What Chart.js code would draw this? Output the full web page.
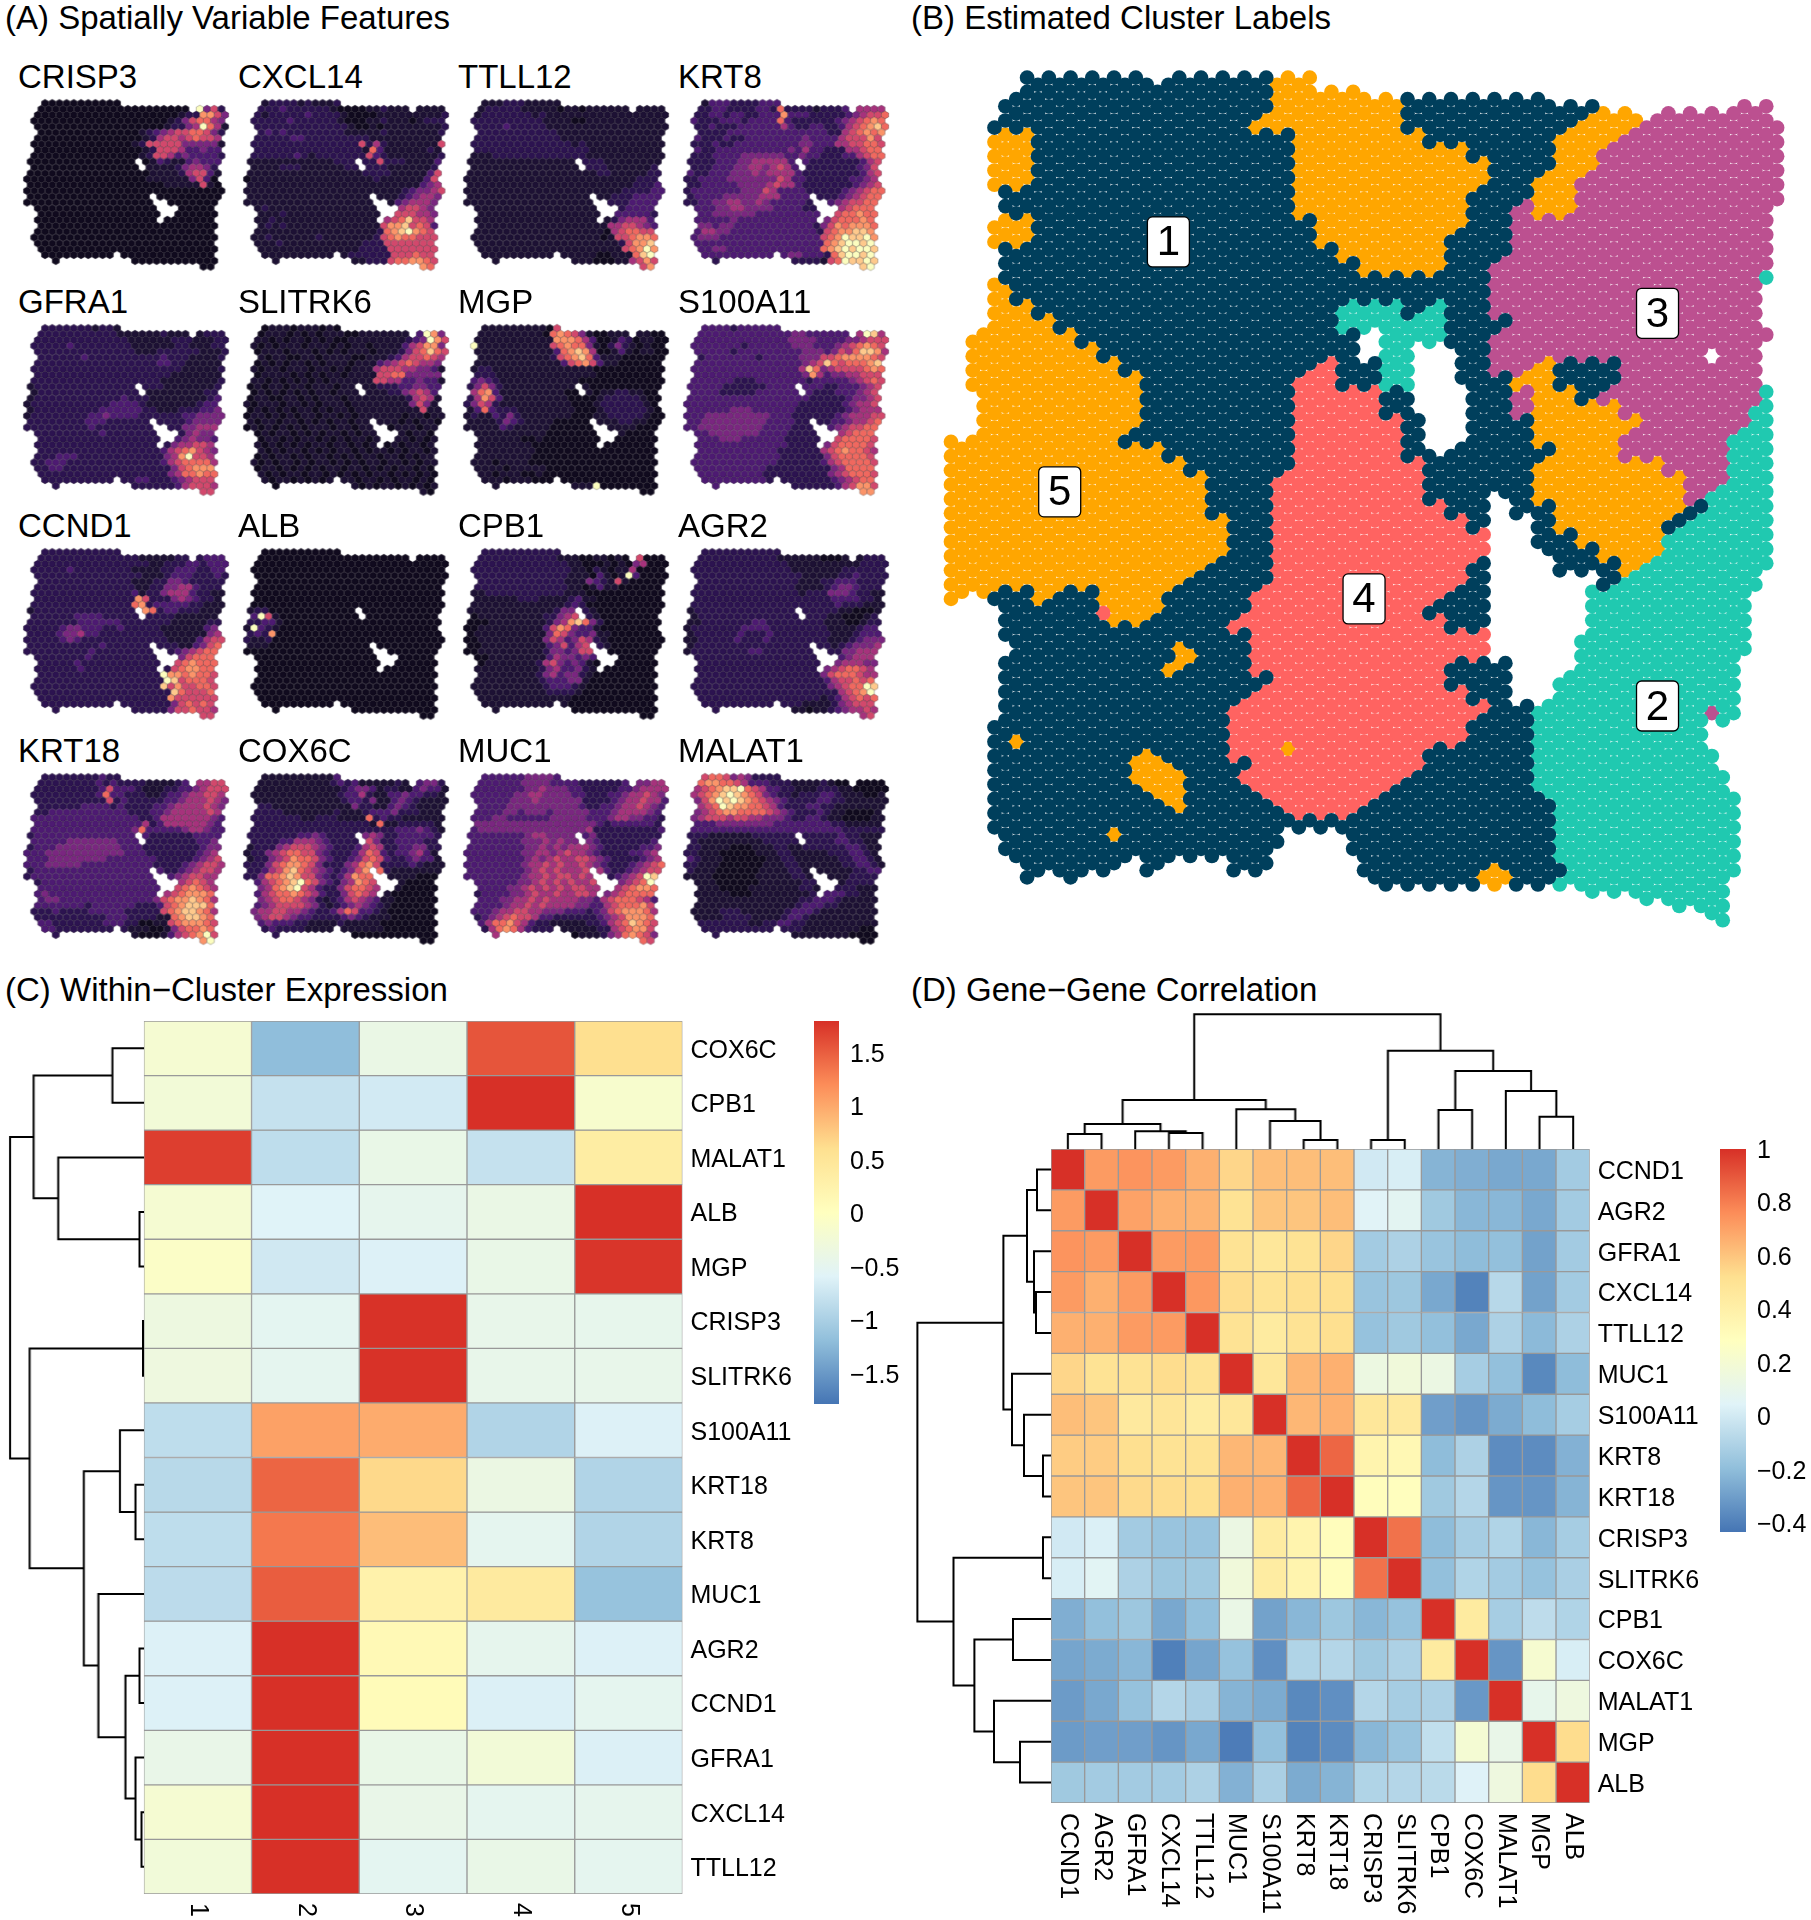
<!DOCTYPE html>
<html>
<head>
<meta charset="utf-8">
<script src="https://cdn.jsdelivr.net/npm/chart.js@4"></script>
<style>
  html, body { margin: 0; padding: 0; background: #fff; }
  #page { position: relative; width: 1811px; height: 1920px; overflow: hidden; font-family: "Liberation Sans", Arial, sans-serif; color: #000; }
  #page canvas { position: absolute; }
  .lbl { position: absolute; font-size: 33px; line-height: 33px; white-space: nowrap; }
</style>
</head>
<body>
<div id="page"></div>
<script>
// ---------- panel (A): 0-10 expression level per spot ----------
const spotSpans = [
  [[2,12]],[[2,22],[24,27]],[[1,27]],[[1,27]],[[1,27]],[[2,27]],[[1,26]],[[1,27]],[[1,26]],[[1,27]],
  [[0,26]],[[1,26]],[[0,26]],[[0,26]],[[0,26]],[[0,27]],[[0,26]],[[0,26]],[[1,25]],[[2,26]],
  [[1,25]],[[2,26]],[[1,25]],[[1,26]],[[1,25]],[[2,26]],[[2,11],[13,25]],[[4,4],[15,26]],[[24,25]]
];
const spotHoles = [[10,15],[11,16],[16,17],[17,18],[17,19],[18,18],[18,19],[18,20],[19,19],[19,20],[20,18]];

const gridCRISP3 = [
  "","000000000000000000000000a462","0000000000000000000001228864",
  "0000000000000000000012467754","000000000000000000012245a751","0000000000000000123456677642",
  "0000000000000000125665676653","0000000000000001266666444441","0000000000000000126665334333",
  "0000000000000000126653433332","0000000000000000013211343331","0000000000000000111112455421",
  "0000000000000000011112566311","0000000000000000011111146300","0000000000000000000111116100"
];
const gridCXCL14 = [
  "1112222121112100011111111111","1122232222221000011211101111","1212222232222100001111111112",
  "1222223222222100011211101222","1222222222222210010111111112","1223232222222211111211111112",
  "1222223322222222211111111112","1222222222222222625211111116","1222222222222222173111111211",
  "1222222321222222263211111112","1111111111112222226222111133","1111122211111122222211111126",
  "1111111111111111222211111369","0111111111111111112111111365","1111111111111111111111113456",
  "1111111111111111111111234456","1111111111111111111112345543","1111111111111111111113455543",
  "1121111111111111111145665443","1111121111111111111156665543","1112111111111111111567966533",
  "1112121111111111111688967632","1111111111111111112789a87632","1112111111211111112678776663",
  "1111211111111111222666666665","1111111111111111222266666665","1111111111111122222266676666",
  "1111111112222111122267788765","1111111112222111122267788765"
];
const gridTTLL12 = [
  "1111122211111111111111111111","1112222211111011011111111111","1122222221211111111111111111",
  "1222222222211110011111111111","1222232222211111111111111111","1222222222222111111111111111",
  "1222222222222111111111111111","1222222222222221211111111111","1222222222222222211111111111",
  "1111222222222222211111111111","1111111111111112222111111112","1111111111111111122211111122",
  "1111111111111111112211111222","1111111111111111111111112222","1111111111111111111111122232",
  "1111111111111111111111222233","1111111111111111111122233333","1111111111111111111122233332",
  "1111111111111111111122333332","1111111111111111111123333322","1111111111111111111124555322",
  "1111111111111111111155665432","1111111111111111111056776652","1111111111111111111016678875",
  "1111111111111111111112688986","1111111111111111111111678a86","1111111111111111110011179a86",
  "1111111111111111110001156866","1111111111111111110001156866"
];
const gridKRT8 = [
  "2213332222333523222222223344","2222332222332722221222335555","2223323322333833322222345667",
  "2322233323333732222223456787","2223222333333532233223567897","2322223333333333333322567878",
  "2322232233333333433335666867","3222322333333333443335566776","2322333333333343533222556777",
  "3222333344444433433222335677","2222333445555533322222223567","3222333445545653222222223466",
  "3223334445455553222222223567","2233334444444653322222233456","2233333444456553222222234566",
  "2333333344465333322222345677","2333344444555333322223456777","2233445544543333322234566777",
  "3333445544443333223345677777","2333444444333333333456778777","3333334333333333333467778776",
  "3344344333333333332468788875","3355443333333333332678899876","3344433333333333333678a99a86",
  "2333333333333333333789aa9a96","2233443333333333333789a9aa97","2233333333333344333279aa9a97",
  "2222233333332222222167a99a96","2222233333332222222167a99a96"
];
const gridGFRA1 = [
  "2222222221221111112221111111","2222222222222111111211111222","2222222222222211111122211122",
  "2222223222222221111112211122","2222222222222221112222221112","2222222232222222222322211112",
  "2222222222222222223322111112","2222222222222222222222111112","2222222222222222222211111112",
  "1222222222222222222111111112","1222222222222222222111111123","1122222222222222211111111223",
  "1222222222222322211111111233","1222222222223333211111112333","1222222222333333221112223344",
  "1222222223343333222222334444","2222222233322222222222344443","2222222223222222222222445554",
  "2222222222322222222222454444","2222222222222222222233454433","2222222222222222222245566533",
  "2222222222222222222356786543","2222333222222222222458a66543","2223332222222222222356777753",
  "2223322222222222222246788873","2222222222222222222245778773","2222222222222223322234566664",
  "2222222222222222222223566654","2222222222222222222223566654"
];
const gridSLITRK6 = [
  "1101110111010100111111011111","0101110101011100111111113a84","0110101101010011111111234a86",
  "0101011101110101101111356884","1011101110101011101112467976","0110110011011110011123566765",
  "1010101101011101113456765543","0101101110110101115666554431","1011110101011011116677444441",
  "0110101010101111116655334331","0101101101110110112223344331","1010101010110111111122456531",
  "0110011010111011111111256511","1011101101011101111111146411","0101010110101101111111116111",
  "0110101011011010111111011011","1011011010101101101110101101","0101010101110110110101110110",
  "1010110101011010111011011011","0101101011010101101101101010","1101010101101101011010110101",
  "0110101101010110101101011010","1010110101101010110110101101","0101011010110101011011010110",
  "1011010101011011010101101011","0110101101101010101101010101","1010110101010110110101101010",
  "0101010110101011010110101010","0101010110101011010110101010"
];
const gridMGP = [
  "0111111111106a31000000000000","0111111111107876410011101100","0111111111118887530013201100",
  "0a11111111116787741024210100","0111111111113789850013101100","0111111111112678973111000000",
  "0111111111111367863110000000","1122111111111111110000000000","1222111111111111110000000000",
  "2343211111111111000000000000","2464211111111111100000000001","2578311111111100110112211000",
  "2586311111111100001222221000","2465211111111110001222222100","1373222111111110001222222100",
  "1211324211111110001122222100","1111243211110000001112211000","1111132111110000000011110000",
  "1111111111100000000001000000","1111111100100000000000000000","1111111110000000000000000000",
  "1111111111000000000000000000","1111111110000000000000000000","1111011110000000000000000000",
  "1111101111100000000000000000","1111011100100000000000000000","1111101110000000000000000000",
  "111110111111111111a000000000","111110111111111111a000000000"
];
const gridS100A11 = [
  "2233332333333333333333333345","2333333333333334433333345a95","3333333333333344443333445666",
  "2333333323333334443334567876","3333332333333333444346579985","3323333333233333444667888876",
  "3333333333333333456976777897","3333333333333333597456666787","3333333333333333485344556667",
  "3333333222333333323333345676","3333322222233333333223334565","3333322222333333332223334566",
  "3333333333333333322222344566","3333333333333333222222345566","3333334443333332222222345556",
  "3334444444443332222223455566","3344444444433332222233455677","3344444444433332222234566776",
  "3334444444333322222245677765","3333344433333322222456777765","3333333333333322222467777654",
  "3333333333333222222567877654","3333333333333222222467777654","3333333333333222222356777765",
  "3333333333322222222245777765","2333333333322222222245677765","2333333333322222222234567765",
  "2233333322222222222223568865","2233333322222222222223568865"
];
const gridCCND1 = [
  "2222222222222211111111122222","2222222222222222111112222333","2222222222222222211222332333",
  "2222223222222221111223332233","2222222222222222111233322232","2222222222222221112244322222",
  "2222222222222221122445532221","2222222222222223122455532211","2222222222222228622245432211",
  "2222222222222227823333322111","1222222222222222872332221112","2222222333322222222221111113",
  "2222222333333222222211111224","2222234433322322222111111345","2222344533222222222111111456",
  "2222234322222222222211113566","2222222222322222222221134677","2222222223222222222223456777",
  "2222222232222222222234677775","2222222322222222222246787775","2222222322222222222267887765",
  "2222222222222222222a88787765","2222222222222222222a96777665","2222222222222222222968667765",
  "2222222222222222222297666765","2222222222222222222286666665","2222222222222222222246767665",
  "2222222222222222222246676654","2222222222222222222246676654"
];
const gridALB = [
  "","","","","","","","","","","122","13a61","22331","1a321","23280","2112","111"
];
const gridCPB1 = [
  "1222222222222100000101000000","1222222222222111001101046000","1222222222222211000101045000",
  "1222222222222221102101150000","1222222222222211103101a30000","1222222222222211143216100000",
  "1222222222222211013110000000","1112222222222211100000000000","1111111222111123110000000000",
  "1111111111111123200000000000","1111111111112445210000000000","0011111111122456321000000000",
  "0001111111124589742000000000","0011111111136874331000000000","0111111111147643341100000000",
  "0011111111146534652100000000","0011111111134635672100000000","0011111111124434662100000000",
  "1001111111135443431100000000","1101111111256434310000000000","1111111111245334211000000000",
  "1111111111245344210000000000","1111111111233344100000000000","1111111111123332100000000000",
  "1111111111122221000000000000","1111111111111110000000000000","1111111111111100000000000000",
  "1111111101111110000000000000","1111111101111110000000000000"
];
const gridAGR2 = [
  "2222222222222111111010111122","2222222222222111111000111222","2222222222222211111111112222",
  "2222222222222221111111222222","2222222222222222111112232222","2222222222222222111223332222",
  "2222222222222221111234432221","2222222222222222122244432211","1222222222222222222233332211",
  "1222222222222222222223222111","1222222222222222222221100012","1122222222222222222211000122",
  "1122222223322222222111001223","1222222233332222222211112333","1222222322232222222211123333",
  "1122222322232222222211123444","1222222222222222222212344454","1222222223322222222222445554",
  "1222222222222222222223455554","1122222222222222222234555443","1222222222222222222456776544",
  "1222222222222222222467776555","1222222222222222222356676786","1222222222222222222245677a96",
  "1222222222222222222225678a86","1122222222222222222123567675","1122222222222222111124566654",
  "1122222222222221101123455653","1122222222222221101123455653"
];
const gridKRT18 = [
  "2222222222322222211111223455","2222222222323222211112345566","2222222222363332111223345666",
  "2222222222373322211233455665","2222222222262322222334555654","3222222233332322223345555654",
  "3223333333333322233455555654","3333333333333333223555555543","3333333333333333523555555432",
  "3333333333333334733333455433","2333333333333333322222233333","2333334444444333222222223343",
  "2333444444444333222222223444","3334444444444433322222223455","3334444444433333332222234566",
  "3334444433333333332222345665","2333333333333333333223456655","2333333333333333333234566554",
  "2233333333333333333345676554","3333333333333333333456787654","3343333333333333334567888754",
  "3334433333333333334678898754","3333333323333332223678999754","2222322223333322222678998753",
  "2222222222233322221178998764","2233222222233322001167888764","2333222222222211100146778754",
  "2232222222222211000135678a63","2232222222222211000135678a63"
];
const gridCOX6C = [
  "1111111111113433111111113322","1111111111112323111112113442","1111111111111234431221134331",
  "1111111111111233521133433221","1111111111111233241134321111","2222111111111114221134321111",
  "2222211111112111233342221111","2222222211222111172322111111","2222222222222222217112222211",
  "2222222222222222222223334321","2222222334322222454223333321","2222233555432222464223333221",
  "1222456665432223565223344221","1224567766432223576323345311","1224568776432234676322343311",
  "2224678876422245786222232111","2235689765432346877211111111","2247789866432358777211110000",
  "2356789a76432458766311000000","2345789a65322467765211000000","2356778765322467654100000000",
  "2345677654212356543110000000","2345666654212345432100000000","3455665543223576332100000000",
  "3456654332222343211100000000","2334333221111211111000000000","2223222211111111111000000000",
  "1122221111111100000000000000","1122221111111100000000000000"
];
const gridMUC1 = [
  "3333333344443333222221223333","3333333344443333222222334455","3333333344544433222223345555",
  "3333333445544443322233455654","3333334445444444222234556553","3333334444444444322334556543",
  "3333344344434444433345555433","3333443333334444433345544332","4444444444444444443233333322",
  "3344444444444444452222222223","3333333345544444342222222223","3333333344454544443222222233",
  "3333333344545455543222223344","3333333344554565543222233455","3333333345456556654322223456",
  "3333333345565655654322234567","3333333345656555665322345667","3333333345565665656223456a97",
  "2333333445656565565234567a87","2233334456565656655345678875","2233334456556556654456777763",
  "3333344556565555443567776532","3333345565655554433567778653","2333455665544433323467888754",
  "2234567665332222223456888754","2235778653221111122356798764","2225787532221111112256788654",
  "2224566322221110111245787643","2224566322221110111245787643"
];
const gridMALAT1 = [
  "3467764542222211111110100000","4578877653332221111210000000","4567899a76533221112221100000",
  "356789a987643221222332111001","3468a9a987654322223322111111","34567a9887765322233221111111",
  "3456788777765432223211000011","3456665665544432233211000011","3333444444443333333322111112",
  "3333333333333333333333222222","2221111112222222222223221112","2211111111122222222223322111",
  "2211110001112211222222332111","2211100000111221111122233211","3211100000011221111112233211",
  "2211100000011122111111223321","2111000000111122111111122332","1111000000111112211111122222",
  "1111000000111111221111222222","1111100001111111221122221111","1111110001111111122333221111",
  "1111111111111111223332111111","1111111111111112333221111111","1111122211111123332111111111",
  "1111122221111233211111111111","1222222221122332211111111111","1222222222222222111111110000",
  "1222222222222221111111100000","1222222222222221111111100000"
];
const panelGenes = ["CRISP3","CXCL14","TTLL12","KRT8","GFRA1","SLITRK6","MGP","S100A11","CCND1","ALB","CPB1","AGR2","KRT18","COX6C","MUC1","MALAT1"];
const panelGrids = [gridCRISP3,gridCXCL14,gridTTLL12,gridKRT8,gridGFRA1,gridSLITRK6,gridMGP,gridS100A11,gridCCND1,gridALB,gridCPB1,gridAGR2,gridKRT18,gridCOX6C,gridMUC1,gridMALAT1];

// ---------- panel (B): cluster per subspot. Each entry covers two lattice rows.
// "start cluster:count ..." ; suffix e/o = only the even/odd row of the pair, 0 = no spot
const spotRows = [
  "3 1e:1 1:5 1o:1 1:5 5:2",
  "3 1:12 5:4 5o:2 1o:7",
  "2 1e:1 1:12 5:6 1:9 5o:2 0:1 3o:3 3:2",
  "2 1:12 5:7 1:8 5:3 3:6 3o:1",
  "2 5:2 1:12 5:6 1:6 5:3 3:7 3o:1",
  "2 5:2 1:12 5:8 1:4 5:2 3:8 3o:1",
  "2 5:2 1:12 5:9 1:3 5:2 3:8 3o:1",
  "2 5:2 1:12 5:9 1:2 5:2 3:9 3o:1",
  "2 1e:1 1:13 5:8 1:3 5:2 3:9 3o:1",
  "2 1e:1 1:13 5:8 1:2 3:1 5:2 3:9",
  "2 5:2 1:13 5:7 1:2 3:12",
  "2 5:2 1:13 5:6 1:3 3:12",
  "2 1e:1 1:15 5:5 1:3 3:12",
  "2 1e:1 1:16 5:4 1:2 3:13",
  "2 1:23 3:12 3o:1",
  "2 5:1 1:22 3:12 3o:1",
  "2 5:2 1:14 2:3 1:1 2:1 1:2 3:12 3o:1",
  "2 5:3 1:13 2:5 1:3 3:11 3o:1",
  "1 5:5 1:13 0:1 2:3 1:2 3:12 3o:1",
  "1 5:6 1:12 0:1 2:1 2o:1 0:1 1e:1 1:1 3:12 3o:1",
  "1 5:7 1:9 4:1 1:2 2:1 2o:1 0:1 1e:1 1:1 3:2 5:1 1:3 3:6 3o:1",
  "1 5:8 1:7 4:2 1:2 2:1 2o:1 0:1 1e:1 1:2 5:2 1:3 3:6 3o:1",
  "1 5e:1 5:7 1:7 4:4 1:1 1o:1 0:2 1:2 3:1 5:2 1:1 3:7 3o:1",
  "1 5e:1 5:7 1:7 4:4 1:1 1o:1 0:2 1:2 3:1 5:4 3:6 2:1",
  "1 5e:1 5:7 1:7 4:5 1:1 0:2 1:3 5:5 3:5 2:1",
  "0 5o:1 5:7 1:8 4:5 1:1 0:2 1:3 5:4 3:5 2:2",
  "0 5:10 1:6 4:5 1:1 1o:1 1:5 5:3 3:5 2:2",
  "0 5:11 1:5 4:6 1:5 5:6 3:3 2:2",
  "0 5:12 1:3 4:7 1:5 5:7 3:2 2:2",
  "0 5:12 1:3 4:7 1:3 1e:1 1:1 5:7 3:1 2:3",
  "0 5:12 1:3 4:8 1:2 0:1 1:2 5:6 1:1 2:3",
  "0 5:13 1:2 4:9 1:1 0:2 1:1 5:5 1:1 2:4",
  "0 5:13 1:2 4:10 0:2 1:2 5:4 2:5",
  "0 5:13 1:2 4:10 0:2 1e:1 1:2 5:3 2:5",
  "0 5:12 1:3 4:9 1:1 0:3 1:3 5:1 2:6",
  "0 5:11 1:4 4:9 1:1 0:5 1:1 2:6 2o:1",
  "0 5:1 5e:1 1:2 5:1 1:2 5:3 1:4 4:9 1:2 0:4 2e:1 2:7",
  "2 1e:1 1:4 5:3 1:4 4:8 1:3 0:4 2e:1 2:7",
  "2 1e:1 1:10 4:10 1:2 0:4 2e:1 2:7",
  "2 1e:1 1:11 4:11 0:4 2:8",
  "3 1:11 4:11 0:4 2:8",
  "2 1e:1 1:11 4:9 1:3 0:3 2:7 2o:1",
  "2 1e:1 1:12 4:8 1:3 0:2 2:8 2o:1",
  "2 1e:1 1:11 4:10 1:2 0:2 2:8 2o:1",
  "2 1e:1 1:10 4:12 1:2 2:9 2o:1",
  "2 1:11 4:11 1:3 2:8 2e:1",
  "2 1:11 4:11 1:3 2:8",
  "2 1:11 4:9 1:5 2:8 2o:1",
  "2 1:12 4:8 1:5 2:8 2o:1",
  "2 1:12 4:7 1:6 2:9",
  "2 1:13 4:5 1:8 2:8 2o:1",
  "2 1:14 4:3 1:9 2:8 2o:1",
  "2 1:26 2:8 2o:1",
  "2 1e:1 1:12 1o:1 0:2 1e:1 1:9 2:8 2o:1",
  "2 1e:1 1:12 0:3 1e:1 1:9 2:8 2o:1",
  "3 1e:1 1:4 0:1 1:1 0:3 1:2 0:4 1:10 2:7 2o:1",
  "3 1e:1 0:1 1e:1 0:13 1e:1 1:8 2:8",
  "29 2e:3 2:4",
  "33 2e:2 2:1",
  "35 2e:1"
];
// single subspots that differ from their row pair: column, row, cluster
const spotFixes = [
  [75,28,2],[4,29,5],[75,36,3],[70,39,0],[75,44,2],[14,75,4],[15,76,5],[17,76,5],[21,80,5],[22,81,5],
  [21,82,5],[20,83,5],[70,89,3],[6,93,5],[31,94,5],[18,95,5],[17,96,5],[19,96,5],[18,97,5],[20,97,5],
  [17,98,5],[19,98,5],[21,98,5],[27,98,4],[18,99,5],[20,99,5],[19,100,5],[21,100,5],[29,100,4],[55,100,2],
  [20,101,5],[21,102,5],[31,102,4],[15,106,5],[57,110,2],[50,111,5],[49,112,5],[51,112,5],[50,113,5]
];
const clusterIds = [1,2,3,4,5];
const clusterLabelCol = [20,65,65,38,10];
const clusterLabelRow = [23,88,33,73,58];
const clusterColors = {1:"#003f5c",2:"#20c9b0",3:"#bc5090",4:"#ff6361",5:"#ffa600"};

// ---------- panel (C) ----------
const exprGenes = ["COX6C","CPB1","MALAT1","ALB","MGP","CRISP3","SLITRK6","S100A11","KRT18","KRT8","MUC1","AGR2","CCND1","GFRA1","CXCL14","TTLL12"];
const exprClusters = ["1","2","3","4","5"];
const exprValues = [
  [-0.2,-1.2,-0.4,1.55,0.6],
  [-0.25,-0.8,-0.7,1.79,-0.15],
  [1.7,-0.85,-0.42,-0.8,0.35],
  [-0.2,-0.6,-0.48,-0.4,1.79],
  [-0.08,-0.72,-0.62,-0.42,1.76],
  [-0.35,-0.52,1.78,-0.45,-0.47],
  [-0.33,-0.5,1.78,-0.45,-0.45],
  [-0.85,1.05,0.98,-0.95,-0.62],
  [-0.9,1.45,0.65,-0.38,-0.95],
  [-0.85,1.33,0.85,-0.5,-0.95],
  [-0.87,1.5,0.25,0.4,-1.15],
  [-0.62,1.79,0.12,-0.48,-0.62],
  [-0.62,1.79,0.07,-0.63,-0.5],
  [-0.43,1.79,-0.42,-0.25,-0.63],
  [-0.2,1.79,-0.43,-0.5,-0.48],
  [-0.27,1.79,-0.52,-0.42,-0.5]
];
const exprTicks = [1.5,1,0.5,0,-0.5,-1,-1.5];
// dendrogram merges: [pos1, height1, pos2, height2, mergeHeight]
const exprTree = [
  [0.5,0,1.5,0,31.5],[3.5,0,4.5,0,4.5],[2.5,0,4,4.5,85.5],[1,31.5,3.25,85.5,110],[5.5,0,6.5,0,1],
  [8.5,0,9.5,0,8.5],[7.5,0,9,8.5,24],[11.5,0,12.5,0,4.5],[14.5,0,15.5,0,2.5],[13.5,0,15,2.5,8.5],
  [12,4.5,14.25,8.5,18.5],[10.5,0,13.125,18.5,45.5],[8.25,24,11.81,45.5,60],[6,1,10.03,60,114],[2.125,110,8.02,114,133.5]
];

// ---------- panel (D) ----------
const corrGenes = ["CCND1","AGR2","GFRA1","CXCL14","TTLL12","MUC1","S100A11","KRT8","KRT18","CRISP3","SLITRK6","CPB1","COX6C","MALAT1","MGP","ALB"];
const corrValues = [
  [1,.72,.74,.72,.66,.55,.62,.62,.62,0,.02,-.23,-.25,-.27,-.27,-.14],
  [.72,1,.7,.66,.65,.5,.6,.6,.62,.05,.07,-.15,-.22,-.22,-.27,-.14],
  [.74,.72,1,.72,.72,.5,.47,.5,.55,-.14,-.11,-.17,-.2,-.19,-.29,-.14],
  [.72,.66,.72,1,.73,.53,.5,.52,.52,-.17,-.16,-.27,-.39,-.08,-.29,-.14],
  [.66,.66,.72,.72,1,.5,.44,.5,.52,-.18,-.15,-.19,-.27,-.11,-.21,-.11],
  [.55,.5,.5,.53,.5,1,.47,.64,.66,.14,.17,.13,-.13,-.19,-.37,-.2],
  [.62,.6,.45,.48,.43,.47,1,.64,.66,.47,.45,-.3,-.33,-.26,-.2,-.13],
  [.58,.58,.52,.5,.5,.64,.64,1,.86,.37,.34,-.2,-.11,-.36,-.36,-.24],
  [.6,.6,.54,.53,.52,.66,.66,.86,1,.3,.29,-.15,-.09,-.33,-.33,-.23],
  [0,.03,-.14,-.17,-.17,.13,.43,.37,.3,1,.83,-.2,-.13,-.1,-.22,-.13],
  [.02,.06,-.11,-.16,-.15,.17,.43,.37,.3,.83,1,-.19,-.1,-.14,-.18,-.12],
  [-.25,-.19,-.16,-.27,-.19,.12,-.29,-.22,-.16,-.22,-.18,1,.44,-.13,-.06,-.1],
  [-.28,-.26,-.22,-.4,-.28,-.18,-.35,-.1,-.09,-.15,-.11,.44,1,-.33,.21,.02],
  [-.31,-.27,-.18,-.09,-.12,-.23,-.26,-.37,-.35,-.09,-.13,-.11,-.32,1,.1,.15],
  [-.31,-.3,-.3,-.33,-.27,-.41,-.19,-.39,-.36,-.22,-.17,-.05,.2,.11,1,.53],
  [-.15,-.14,-.14,-.14,-.11,-.24,-.12,-.26,-.23,-.1,-.09,-.07,.04,.15,.53,1]
];
const corrTicks = [1,0.8,0.6,0.4,0.2,0,-0.2,-0.4];
const corrTreeLeft = [
  [0.5,0,1.5,0,14],[3.5,0,4.5,0,15],[2.5,0,4,15,17],[1,14,3.25,17,24],[7.5,0,8.5,0,8],
  [6.5,0,8,8,27],[5.5,0,7.25,27,39],[2.125,24,6.375,39,47.6],[9.5,0,10.5,0,8],[11.5,0,12.5,0,38],
  [14.5,0,15.5,0,31],[13.5,0,15,31,57],[12,38,14.25,57,76.6],[10,8,13.125,76.6,97.5],[4.25,47.6,11.56,97.5,133.6]
];
const corrTreeTop = [
  [0.5,0,1.5,0,15],[3.5,0,4.5,0,16],[2.5,0,4,16,17.7],[1,15,3.25,17.7,25],[7.5,0,8.5,0,9],
  [6.5,0,8,9,28],[5.5,0,7.25,28,39.7],[2.125,25,6.375,39.7,49],[9.5,0,10.5,0,9],[11.5,0,12.5,0,39],
  [14.5,0,15.5,0,32.3],[13.5,0,15,32.3,58],[12,39,14.25,58,78],[10,9,13.125,78,98.3],[4.25,49,11.56,98.3,134.7]
];

// ---------- colours ----------
const ramp = [[69,117,180],[145,191,219],[224,243,248],[255,255,191],[254,224,144],[252,141,89],[215,48,39]];
const magma = ["#100a1e","#1d1134","#2c1350","#4d1a72","#7a2680","#a6327c","#d2486c","#f0685f","#fb9469","#fec98c","#fcfdbf"];

function rampColor(v, min, max) {
  const t = Math.max(0, Math.min(0.9999, (v - min) / (max - min))) * 6;
  const i = Math.floor(t), f = t - i, a = ramp[i], b = ramp[i + 1];
  return `rgb(${a.map((c, n) => Math.round(c + (b[n] - c) * f)).join(",")})`;
}

const page = document.getElementById("page");
const FONT = '"Liberation Sans", Arial, sans-serif';
Chart.defaults.font.family = FONT;
Chart.defaults.color = "#000";
Chart.defaults.animation = false;
Chart.defaults.responsive = false;
Chart.defaults.events = [];
Chart.defaults.layout.autoPadding = false;
Chart.defaults.plugins.legend.display = false;
Chart.defaults.plugins.tooltip.enabled = false;

function addCanvas(left, top, width, height) {
  const c = document.createElement("canvas");
  c.width = width; c.height = height;
  c.style.left = left + "px"; c.style.top = top + "px";
  c.style.width = width + "px"; c.style.height = height + "px";
  page.appendChild(c);
  return c;
}
function addLabel(text, left, top) {
  const d = document.createElement("div");
  d.className = "lbl"; d.textContent = text;
  d.style.left = left + "px"; d.style.top = top + "px";
  page.appendChild(d);
}

addLabel("(A) Spatially Variable Features", 5, 1);
addLabel("(B) Estimated Cluster Labels", 911, 1);
addLabel("(C) Within\u2212Cluster Expression", 5, 973);
addLabel("(D) Gene\u2212Gene Correlation", 911, 973);

// hexagon stamps for panel A, one per level
const hexStamps = magma.map(col => {
  const c = document.createElement("canvas");
  c.width = 10; c.height = 10;
  const g = c.getContext("2d");
  const hw = 3.65, hh = 3.9;
  g.beginPath();
  g.moveTo(5, 5 - hh); g.lineTo(5 + hw, 5 - hh / 2); g.lineTo(5 + hw, 5 + hh / 2);
  g.lineTo(5, 5 + hh); g.lineTo(5 - hw, 5 + hh / 2); g.lineTo(5 - hw, 5 - hh / 2);
  g.closePath();
  g.fillStyle = col; g.fill();
  g.lineWidth = 0.5; g.strokeStyle = "rgba(15,10,20,0.5)"; g.stroke();
  return c;
});

const holeSet = new Set(spotHoles.map(h => h[0] + "," + h[1]));

panelGenes.forEach((gene, p) => {
  const a = p % 4, b = Math.floor(p / 4);
  addLabel(gene, 18 + 220 * a, 60 + 224.5 * b);
  const pts = [], styles = [];
  spotSpans.forEach((spans, i) => spans.forEach(([s, e]) => {
    for (let j = s; j <= e; j++) {
      if (holeSet.has(i + "," + j)) continue;
      const ch = (panelGrids[p][i] || "")[j] || "0";
      pts.push({ x: j + (i % 2 ? 0 : 0.5), y: i });
      styles.push(hexStamps[parseInt(ch, 16)]);
    }
  }));
  new Chart(addCanvas(220 * a, 95 + 224.5 * b, 240, 185), {
    type: "scatter",
    data: { datasets: [{ data: pts, pointStyle: styles, pointRadius: 4, pointBorderWidth: 0 }] },
    options: {
      layout: { padding: 0 },
      scales: {
        x: { display: false, min: -3.75, max: 29.58 },
        y: { display: false, reverse: true, min: -1.42, max: 30.3 }
      }
    }
  });
});

// ---------- panel B ----------
function parseSpots() {
  const spots = new Map();
  spotRows.forEach((row, j) => {
    const tokens = row.split(" ");
    let k = parseInt(tokens[0]);
    tokens.slice(1).forEach(tok => {
      const m = tok.match(/^(\d)([eo]?):(\d+)$/);
      const cl = +m[1];
      for (let n = 0; n < +m[3]; n++, k++) {
        if (cl === 0) continue;
        if (m[2] !== "o") spots.set((2 * k + 1) + "," + (2 * j), cl);
        if (m[2] !== "e") spots.set((2 * k) + "," + (2 * j + 1), cl);
      }
    });
  });
  spotFixes.forEach(([c, r, cl]) => {
    if (cl === 0) spots.delete(c + "," + r); else spots.set(c + "," + r, cl);
  });
  return spots;
}
const spots = parseSpots();

const clusterBoxes = {
  id: "clusterBoxes",
  afterDatasetsDraw(chart) {
    const { ctx, scales } = chart;
    clusterIds.forEach((id, i) => {
      const x = scales.x.getPixelForValue(clusterLabelCol[i]);
      const y = scales.y.getPixelForValue(clusterLabelRow[i]);
      ctx.save();
      ctx.beginPath();
      ctx.roundRect(x - 21, y - 25, 42, 50, 5);
      ctx.fillStyle = "#fff"; ctx.fill();
      ctx.lineWidth = 1.3; ctx.strokeStyle = "#000"; ctx.stroke();
      ctx.fillStyle = "#000";
      ctx.font = "42px " + FONT;
      ctx.textAlign = "center"; ctx.textBaseline = "middle";
      ctx.fillText(String(id), x, y + 2);
      ctx.restore();
    });
  }
};

new Chart(addCanvas(900, 50, 911, 900), {
  type: "scatter",
  data: {
    datasets: clusterIds.map(id => ({
      data: [...spots].filter(e => e[1] === id).map(e => {
        const [c, r] = e[0].split(",").map(Number);
        return { x: c, y: r };
      }),
      backgroundColor: clusterColors[id],
      pointRadius: 7.35,
      pointBorderWidth: 0
    }))
  },
  options: {
    layout: { padding: 0 },
    scales: {
      x: { display: false, min: -4.692, max: 79.12 },
      y: { display: false, reverse: true, min: -3.875, max: 122.17 }
    }
  },
  plugins: [clusterBoxes]
});

// ---------- heatmaps ----------
function rotatedLabels(labels, offset) {
  return {
    id: "rotatedLabels",
    afterDraw(chart) {
      const { ctx, scales, chartArea } = chart;
      labels.forEach((t, i) => {
        ctx.save();
        ctx.translate(scales.x.getPixelForValue(i), chartArea.bottom + offset);
        ctx.rotate(Math.PI / 2);
        ctx.font = "25px " + FONT;
        ctx.fillStyle = "#000";
        ctx.textAlign = "left"; ctx.textBaseline = "middle";
        ctx.fillText(t, 0, 0);
        ctx.restore();
      });
    }
  };
}

// tickShift nudges the label text a little down to sit like the reference's
function heatmap(canvas, rows, cols, values, min, max, pad, axisWidth, labelGap, tickPad, tickShift) {
  new Chart(canvas, {
    type: "bar",
    data: {
      labels: cols,
      datasets: rows.map((name, r) => ({
        label: name,
        data: cols.map(() => [r, r + 1]),
        backgroundColor: values[r].map(v => rampColor(v, min, max)),
        borderColor: "#999",
        borderWidth: 1,
        borderSkipped: false,
        grouped: false,
        barPercentage: 1,
        categoryPercentage: 1
      }))
    },
    options: {
      layout: { padding: pad },
      scales: {
        x: { display: false },
        y: {
          position: "right", reverse: true, min: 0, max: rows.length,
          grid: { display: false, drawTicks: false }, border: { display: false },
          afterBuildTicks: s => { s.ticks = rows.map((_, i) => ({ value: i + 0.5 + tickShift })); },
          afterFit: s => { s.width = axisWidth; s.paddingTop = 0; s.paddingBottom = 0; },
          ticks: {
            autoSkip: false, padding: tickPad, font: { size: 25 }, color: "#000",
            callback: (v, i) => rows[i]
          }
        }
      }
    },
    plugins: [rotatedLabels(cols, labelGap)]
  });
}

heatmap(addCanvas(143, 1011, 757, 909), exprGenes, exprClusters, exprValues, -1.79, 1.79,
  { left: 0.8, top: 10, right: 0, bottom: 26 }, 217.5, 9, 8, 0.046);
heatmap(addCanvas(1051, 1140, 760, 780), corrGenes, corrGenes, corrValues, -0.434, 1,
  { left: 0, top: 9, right: 0, bottom: 117 }, 221.3, 10, 8, 0.06);

// ---------- colour bars ----------
function colorBar(canvas, min, max, ticks, axisWidth, tickShift) {
  new Chart(canvas, {
    type: "bar",
    data: {
      labels: [""],
      datasets: [{
        data: [[min, max]],
        barPercentage: 1, categoryPercentage: 1, borderWidth: 0,
        backgroundColor: ctx => {
          const area = ctx.chart.chartArea;
          if (!area) return "#fff";
          const g = ctx.chart.ctx.createLinearGradient(0, area.bottom, 0, area.top);
          ramp.forEach((c, i) => g.addColorStop(i / 6, `rgb(${c.join(",")})`));
          return g;
        }
      }]
    },
    options: {
      layout: { padding: { top: 20, bottom: 20, left: 0, right: 0 } },
      scales: {
        x: { display: false },
        y: {
          position: "right", min, max,
          grid: { display: false, drawTicks: false }, border: { display: false },
          afterBuildTicks: s => { s.ticks = ticks.map(v => ({ value: v - tickShift })); },
          afterFit: s => { s.width = axisWidth; s.paddingTop = 0; s.paddingBottom = 0; },
          ticks: {
            autoSkip: false, padding: 11, font: { size: 25 }, color: "#000",
            callback: (v, i) => String(ticks[i]).replace("-", "\u2212")
          }
        }
      }
    }
  });
}
colorBar(addCanvas(814, 1001, 100, 423), -1.79, 1.79, exprTicks, 75, 0.026);
colorBar(addCanvas(1720, 1129, 91, 423), -0.434, 1, corrTicks, 65, 0.008);

// ---------- dendrograms ----------
function dendrogram(canvas, merges, horizontal, span, maxH) {
  const pt = (pos, h) => horizontal ? { x: h, y: pos } : { x: pos, y: h };
  new Chart(canvas, {
    type: "scatter",
    data: {
      datasets: merges.map(([p1, h1, p2, h2, h]) => ({
        data: [pt(p1, h1), pt(p1, h), pt(p2, h), pt(p2, h2)],
        showLine: true, borderColor: "#000", borderWidth: 2, pointRadius: 0, tension: 0, clip: false
      }))
    },
    options: {
      layout: { padding: 0 },
      scales: horizontal
        ? { x: { display: false, reverse: true, min: 0, max: maxH }, y: { display: false, reverse: true, min: 0, max: span } }
        : { x: { display: false, min: 0, max: span }, y: { display: false, min: 0, max: maxH } }
    }
  });
}
dendrogram(addCanvas(0, 1021, 143.5, 873), exprTree, true, 16, 143.5);
dendrogram(addCanvas(900, 1149, 151, 654), corrTreeLeft, true, 16, 151);
dendrogram(addCanvas(1051, 1000, 538.7, 149), corrTreeTop, false, 16, 149);
</script>
</body>
</html>
